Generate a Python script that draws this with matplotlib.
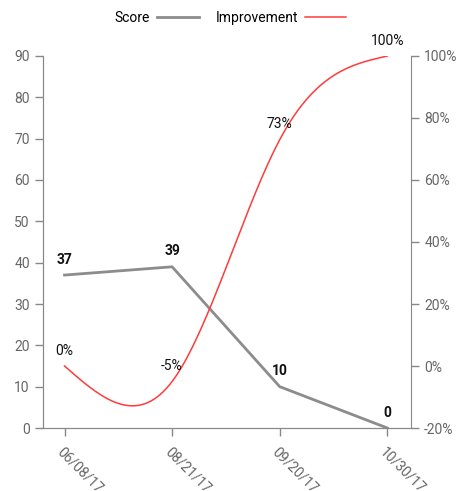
import matplotlib
matplotlib.use("Agg")
import matplotlib.pyplot as plt
import numpy as np

plt.rcParams['font.family'] = ['Roboto', 'DejaVu Sans']

dates = ["06/08/17", "08/21/17", "09/20/17", "10/30/17"]
score = [37, 39, 10, 0]
improvement = [0, -5, 73, 100]  # percent


def natural_spline(y, n=60):
	# natural cubic spline through equally spaced points
	y = np.asarray(y, float)
	k = len(y)
	A = np.zeros((k, k))
	r = np.zeros(k)
	A[0, 0] = A[-1, -1] = 1
	for i in range(1, k - 1):
		A[i, i - 1:i + 2] = [1, 4, 1]
		r[i] = 6 * (y[i - 1] - 2 * y[i] + y[i + 1])
	M = np.linalg.solve(A, r)
	xs, ys = [], []
	for i in range(k - 1):
		t = np.linspace(0, 1, n)
		yy = ((1 - t) * y[i] + t * y[i + 1]
			+ ((1 - t) ** 3 - (1 - t)) * M[i] / 6 + (t ** 3 - t) * M[i + 1] / 6)
		xs.append(i + t)
		ys.append(yy)
	return np.concatenate(xs), np.concatenate(ys)


gray = "#888888"
txt = "#666666"

fig = plt.figure(figsize=(4.61, 4.91), dpi=100)
ax = fig.add_axes([43 / 461, 63 / 491, 368 / 461, 372 / 491])
ax2 = ax.twinx()

x = np.arange(len(dates))
ax.plot(x, score, color="#8c8c8c", lw=2.0, label="Score", zorder=3)
sx, sy = natural_spline(improvement)
ax2.plot(sx, sy, color="#ff3b3b", lw=1.1, label="Improvement")

for xi, v in zip(x, score):
	ax.annotate(str(v), (xi, v), xytext=(0, 6), textcoords="offset points",
		ha="center", va="bottom", fontsize=10, fontweight="bold", color="#111111")
for xi, v in zip(x, improvement):
	ax2.annotate(f"{v}%", (xi, v), xytext=(0, 6), textcoords="offset points",
		ha="center", va="bottom", fontsize=10, color="#111111")

ax.set_xlim(-0.2, 3.22)
ax.set_ylim(0, 90)
ax2.set_ylim(-20, 100)
ax.set_yticks(range(0, 91, 10))
ax2.set_yticks(range(-20, 101, 20))
ax2.set_yticklabels([f"{v}%" for v in range(-20, 101, 20)])
ax.set_xticks(x)
ax.set_xticklabels(dates, rotation=-45, ha="left", rotation_mode="anchor")

for a in (ax, ax2):
	for s in a.spines.values():
		s.set_color(gray)
	a.spines["top"].set_visible(False)
	a.tick_params(colors=gray, labelcolor=txt, labelsize=10, length=6, width=1)
ax.spines["right"].set_visible(False)
ax.tick_params(axis="x", pad=6)

h1, l1 = ax.get_legend_handles_labels()
h2, l2 = ax2.get_legend_handles_labels()
fig.legend(h1 + h2, l1 + l2, loc="center", bbox_to_anchor=(0.5, 1 - 18 / 491),
	ncol=2, frameon=False, markerfirst=False, fontsize=10, handlelength=3,
	columnspacing=1.2, handletextpad=0.5)

fig.savefig("out.png", dpi=100)
